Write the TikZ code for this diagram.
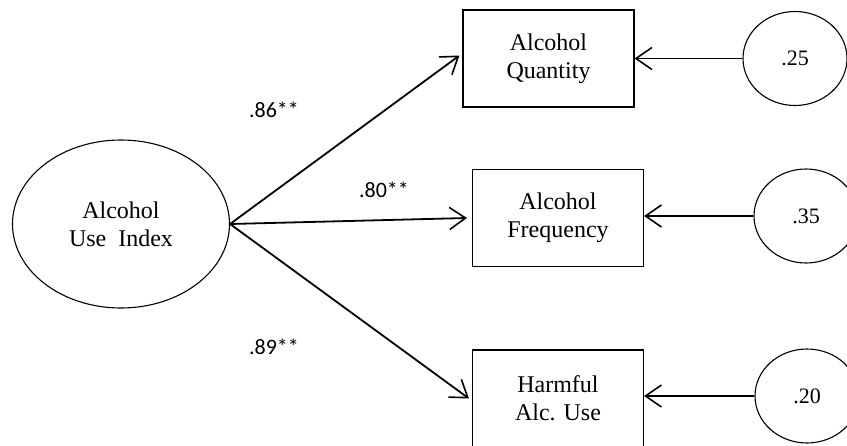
\documentclass[tikz,border=0pt]{standalone}
\usepackage{fontspec}
\setmainfont{Liberation Serif}
\newfontfamily\labelfont{Carlito}
\usetikzlibrary{arrows.meta,shapes.geometric}
\begin{document}
\begin{tikzpicture}[x=1pt,y=-1pt,
  line width=1.8pt,
  indicator/.style={draw,rectangle,line width=1.1pt,minimum width=171pt,minimum height=97pt,
    align=center,font=\fontsize{24}{28}\selectfont,inner sep=0pt},
  latent/.style={draw,ellipse,line width=1.1pt,minimum width=217pt,minimum height=168pt,
    align=center,font=\fontsize{24}{28}\selectfont,inner sep=0pt},
  errorterm/.style={draw,ellipse,line width=1.1pt,minimum width=104pt,minimum height=94pt,
    font=\fontsize{22}{26}\selectfont,inner sep=0pt},
  loading/.style={font=\labelfont\fontsize{22}{26}\selectfont,inner sep=0pt},
  path/.style={-{Straight Barb[length=16pt,width=22pt,line width=1.6pt]}}]
\useasboundingbox (0,0) rectangle (847,445);

% latent factor
\node[latent] (aui) at (121,224) {Alcohol\\Use\ \ Index};

% observed indicators
\node[indicator] (qty)  at (548.5,58.5)  {Alcohol\\Quantity};
\node[indicator] (freq) at (558,218)   {Alcohol\\Frequency};
\node[indicator] (harm) at (558,398.5) {Harmful\\Alc. Use};

% residual variances
\node[errorterm] (e1) at (795,58.5)  {.25};
\node[errorterm] (e2) at (806,216) {.35};
\node[errorterm] (e3) at (807,396) {.20};

% factor loadings
\coordinate (src) at (aui.east);
\coordinate (t1) at ([xshift=-3pt,yshift=3pt]qty.west);
\coordinate (t2) at ([xshift=-5pt]freq.west);
\coordinate (t3) at ([xshift=-3pt]harm.west);
\draw[path] (src) -- (t1);
\draw[path] (src) -- (t2);
\draw[path] (src) -- (t3);

\node[loading] (l1) at (274,110) {.86**};
\node[loading] (l2) at (384,190) {.80**};
\node[loading] (l3) at (274,347) {.89**};

% residual paths
\draw[path] (e1.west) -- (e1.west -| qty.east);
\draw[path] (e2.west) -- (e2.west -| freq.east);
\draw[path] (e3.west) -- (e3.west -| harm.east);
\end{tikzpicture}
\end{document}
